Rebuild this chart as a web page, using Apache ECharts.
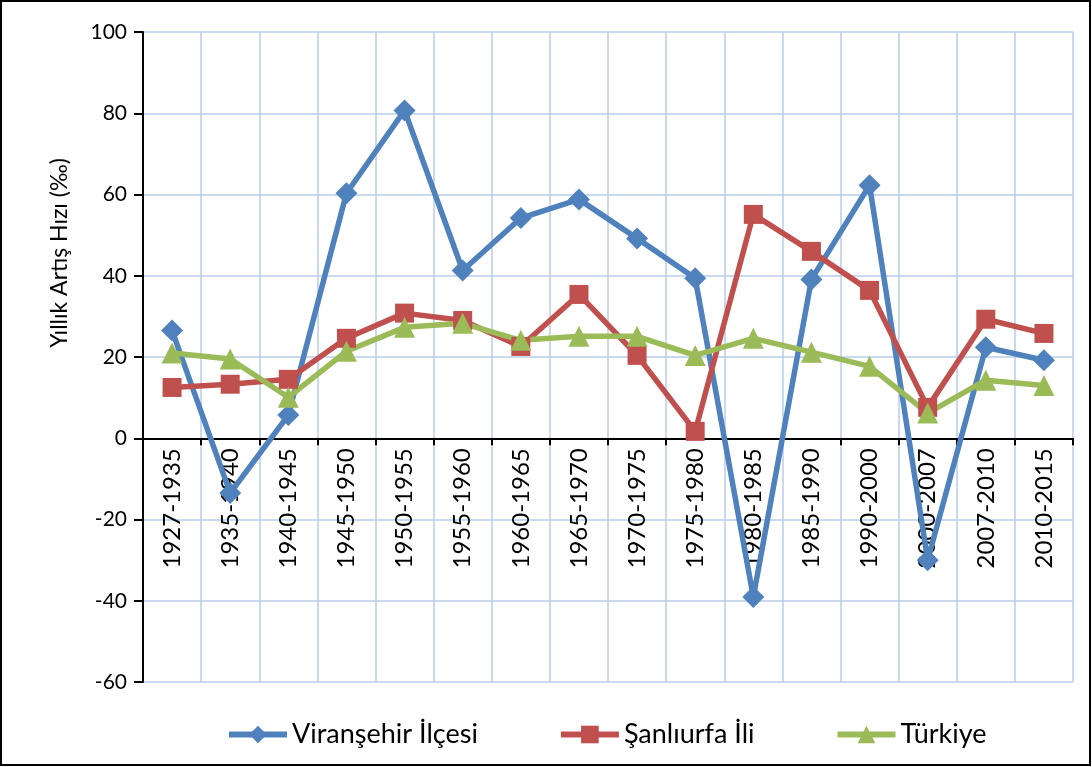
<!DOCTYPE html>
<html>
<head>
<meta charset="utf-8">
<script src="https://cdn.jsdelivr.net/npm/echarts@6/dist/echarts.min.js"></script>
<style>
  html, body { margin: 0; padding: 0; background: #fff; }
  #chart { width: 1092px; height: 767px; }
</style>
</head>
<body>
<div id="chart"></div>
<script>
var periods = ["1927-1935", "1935-1940", "1940-1945", "1945-1950", "1950-1955", "1955-1960", "1960-1965", "1965-1970",
    "1970-1975", "1975-1980", "1980-1985", "1985-1990", "1990-2000", "2000-2007", "2007-2010", "2010-2015"];
var viransehir = [26.5, -13.5, 5.7, 60.3, 80.7, 41.3, 54.2, 58.8, 49.2, 39.4, -39.1, 39.1, 62.3, -30, 22.4, 19.2];
var sanliurfa = [12.5, 13.3, 14.5, 24.6, 30.8, 29, 22.6, 35.4, 20.4, 1.7, 55.1, 46, 36.4, 7.6, 29.3, 25.8];
var turkiye = [21, 19.5, 10.1, 21.4, 27.3, 28.3, 24.1, 25.1, 25.1, 20.4, 24.6, 21.2, 17.7, 6.2, 14.3, 13];
var yTicks = [-60, -40, -20, 0, 20, 40, 60, 80, 100];

var fontName = "Lato, 'Open Sans', sans-serif";
var gridTop = 32, gridBottom = 85;
var plotHeight = 767 - gridTop - gridBottom;
var yMin = yTicks[0], yMax = yTicks[yTicks.length - 1];
// move the category axis up to the zero line (labels included)
var zeroOffset = -plotHeight * (0 - yMin) / (yMax - yMin);

var lineSeries = function (name, data, color, symbol, size) {
    return {
        name: name,
        type: 'line',
        data: data,
        symbol: symbol,
        symbolSize: size,
        lineStyle: { color: color, width: 5.5 },
        itemStyle: { color: color },
        z: 3
    };
};

var chart = echarts.init(document.getElementById('chart'));
var option = {
    animation: false,
    backgroundColor: '#fff',
    grid: { left: 143, right: 19, top: gridTop, bottom: gridBottom, outerBoundsMode: 'none' },
    graphic: [
        {
            type: 'rect', silent: true,
            shape: { x: 1, y: 1, width: 1089, height: 764 },
            style: { fill: 'none', stroke: '#000', lineWidth: 2 }
        },
        {
            type: 'text', silent: true,
            x: 60, y: 253, rotation: Math.PI / 2,
            style: {
                text: 'Yıllık Artış Hızı (‰)', fill: '#000',
                font: "23px " + fontName, align: 'center', verticalAlign: 'middle'
            }
        }
    ],
    legend: {
        top: 716,
        left: 221,
        itemWidth: 58,
        itemHeight: 22,
        itemGap: 80,
        lineStyle: { width: 6 },
        textStyle: { fontFamily: fontName, fontSize: 27, color: '#000' },
        data: ['Viranşehir İlçesi', 'Şanlıurfa İli', 'Türkiye']
    },
    xAxis: {
        type: 'category',
        data: periods,
        boundaryGap: true,
        offset: zeroOffset,
        axisLine: { onZero: false, lineStyle: { color: '#000', width: 2 } },
        axisTick: { show: true, length: 7, lineStyle: { color: '#000', width: 2 } },
        axisLabel: { rotate: 90, margin: 10, color: '#000', fontFamily: fontName, fontSize: 24 },
        splitLine: { show: true, lineStyle: { color: '#b9cdea', width: 1.5 } }
    },
    yAxis: {
        type: 'value',
        min: yMin,
        max: yMax,
        interval: 20,
        axisLine: { show: true, lineStyle: { color: '#000', width: 2 } },
        axisTick: { show: true, length: 9, lineStyle: { color: '#000', width: 2 } },
        axisLabel: { margin: 16, color: '#000', fontFamily: fontName, fontSize: 21 },
        splitLine: { show: true, lineStyle: { color: '#b9cdea', width: 1.5 } }
    },
    series: [
        lineSeries('Viranşehir İlçesi', viransehir, '#4f81bd', 'diamond', 22),
        lineSeries('Şanlıurfa İli', sanliurfa, '#c0504d', 'rect', 19),
        lineSeries('Türkiye', turkiye, '#9bbb59', 'triangle', 21)
    ]
};
chart.setOption(option);
</script>
</body>
</html>
